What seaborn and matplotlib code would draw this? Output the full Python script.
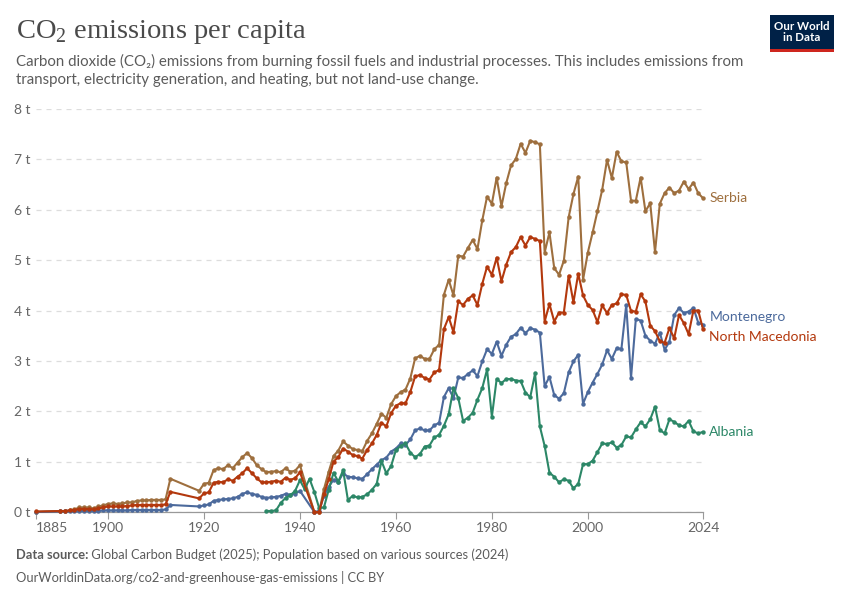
import pandas as pd
import matplotlib.pyplot as plt
import seaborn as sns
from matplotlib.patches import Rectangle

# years with data (the series skip 1886-89, 1914-18 and 1941-42)
years = [1885] + list(range(1890, 1914)) + list(range(1919, 1941)) + list(range(1943, 2025))
years_albania = list(range(1933, 2025))

# tonnes of CO2 per person
serbia = [
    0.0,
    0.02, 0.02, 0.03, 0.05, 0.09, 0.09, 0.09, 0.07, 0.11, 0.13, 0.16, 0.17, 0.16, 0.17, 0.19, 0.19,
    0.22, 0.23, 0.23, 0.24, 0.24, 0.24, 0.25, 0.66,
    0.42, 0.56, 0.58, 0.83, 0.87, 0.85, 0.93, 0.87, 0.98, 1.09, 1.17, 1.07, 0.93, 0.85, 0.79, 0.80,
    0.81, 0.79, 0.87, 0.80, 0.82, 0.93,
    0.0, 0.0, 0.45, 0.80, 1.11, 1.22, 1.40, 1.32, 1.25, 1.23, 1.21, 1.41, 1.56, 1.75, 1.95, 1.87,
    2.14, 2.30, 2.38, 2.43, 2.65, 3.05, 3.10, 3.04, 3.04, 3.23, 3.32,
    4.31, 4.61, 4.30, 5.09, 5.07, 5.24, 5.40, 5.22, 5.79, 6.26, 6.12, 6.64, 6.07, 6.53, 6.88, 7.01,
    7.31, 7.13, 7.37, 7.34, 7.30, 5.15, 5.55, 4.84,
    4.71, 4.99, 5.85, 6.31, 6.66, 4.61, 5.15, 5.55, 5.97, 6.40, 6.99, 6.63, 7.15, 6.96, 6.94, 6.18,
    6.18, 6.64, 5.97, 6.13, 5.16, 6.12, 6.33, 6.44, 6.33, 6.38, 6.56, 6.41, 6.54, 6.33, 6.23,
]
north_macedonia = [
    0.01,
    0.02, 0.02, 0.03, 0.04, 0.06, 0.06, 0.06, 0.05, 0.07, 0.09, 0.11, 0.11, 0.11, 0.11, 0.12, 0.13,
    0.14, 0.14, 0.14, 0.14, 0.14, 0.14, 0.15, 0.40,
    0.27, 0.37, 0.39, 0.58, 0.60, 0.59, 0.65, 0.62, 0.70, 0.77, 0.87, 0.77, 0.67, 0.59, 0.59, 0.60,
    0.62, 0.60, 0.68, 0.64, 0.67, 0.79,
    0.0, 0.0, 0.35, 0.65, 1.00, 1.09, 1.26, 1.20, 1.13, 1.11, 1.06, 1.23, 1.36, 1.53, 1.77, 1.70,
    1.96, 2.11, 2.16, 2.16, 2.38, 2.69, 2.72, 2.66, 2.63, 2.77, 2.82,
    3.63, 3.87, 3.57, 4.18, 4.11, 4.23, 4.30, 4.11, 4.53, 4.87, 4.71, 5.05, 4.58, 4.91, 5.16, 5.26,
    5.46, 5.29, 5.46, 5.42, 5.38, 3.78, 4.13, 3.78,
    3.96, 3.96, 4.69, 4.16, 4.73, 4.30, 4.11, 4.01, 3.77, 4.10, 3.95, 4.11, 4.14, 4.32, 4.31, 3.99,
    3.98, 4.32, 4.18, 3.70, 3.59, 3.39, 3.36, 3.65, 3.45, 3.91, 3.75, 3.53, 4.00, 4.00, 3.63,
]
montenegro = [
    0.0,
    0.01, 0.01, 0.01, 0.01, 0.02, 0.02, 0.02, 0.02, 0.02, 0.03, 0.03, 0.03, 0.03, 0.03, 0.03, 0.04,
    0.04, 0.04, 0.04, 0.04, 0.04, 0.04, 0.05, 0.14,
    0.11, 0.13, 0.15, 0.22, 0.24, 0.25, 0.26, 0.27, 0.30, 0.36, 0.39, 0.36, 0.34, 0.30, 0.28, 0.29,
    0.30, 0.32, 0.36, 0.34, 0.36, 0.42,
    0.0, 0.02, 0.32, 0.50, 0.64, 0.60, 0.77, 0.70, 0.69, 0.67, 0.66, 0.75, 0.85, 0.94, 1.03, 1.08,
    1.20, 1.26, 1.36, 1.33, 1.44, 1.62, 1.66, 1.62, 1.62, 1.72, 1.77,
    2.28, 2.46, 2.26, 2.67, 2.66, 2.74, 2.81, 2.70, 2.99, 3.23, 3.14, 3.38, 3.10, 3.32, 3.48, 3.53,
    3.66, 3.55, 3.65, 3.62, 3.56, 2.50, 2.68, 2.32,
    2.25, 2.36, 2.77, 2.99, 3.12, 2.15, 2.38, 2.57, 2.74, 2.93, 3.21, 3.04, 3.25, 3.24, 4.11, 2.66,
    3.83, 3.80, 3.50, 3.40, 3.34, 3.56, 3.22, 3.38, 3.91, 4.05, 3.95, 3.98, 4.05, 3.76, 3.72,
]
albania = [
    0.02, 0.02, 0.03, 0.18, 0.28, 0.33, 0.42, 0.63, 0.45, 0.66, 0.40, 0.08, 0.09, 0.44, 0.78, 0.60,
    0.83, 0.24, 0.32, 0.29, 0.30, 0.35, 0.44, 0.56, 1.01, 0.77, 0.91, 1.23, 1.31, 1.36, 1.18, 1.09,
    1.15, 1.30, 1.32, 1.48, 1.53,
    1.71, 1.94, 2.46, 2.26, 1.81, 1.87, 1.97, 2.23, 2.46, 2.83, 1.89, 2.64, 2.56, 2.64, 2.64, 2.61,
    2.60, 2.37, 2.28, 2.75, 1.70, 1.31, 0.78, 0.70,
    0.59, 0.65, 0.62, 0.47, 0.56, 0.95, 0.95, 1.02, 1.19, 1.36, 1.35, 1.38, 1.28, 1.33, 1.50, 1.48,
    1.64, 1.78, 1.70, 1.84, 2.09, 1.63, 1.56, 1.84, 1.79, 1.72, 1.70, 1.81, 1.60, 1.56, 1.59,
]

x_ticks = [1885, 1900, 1920, 1940, 1960, 1980, 2000, 2024]
y_ticks = list(range(0, 9))

colors = {
    "Serbia": "#9e6f3e",
    "North Macedonia": "#b3380d",
    "Montenegro": "#4c6a9c",
    "Albania": "#2c8767",
}
# where the end labels sit (nudged apart where lines end close together)
label_y = {"Serbia": 6.24, "Montenegro": 3.88, "North Macedonia": 3.47, "Albania": 1.58}

frames = [
    pd.DataFrame({"year": years, "value": serbia, "country": "Serbia"}),
    pd.DataFrame({"year": years, "value": north_macedonia, "country": "North Macedonia"}),
    pd.DataFrame({"year": years, "value": montenegro, "country": "Montenegro"}),
    pd.DataFrame({"year": years_albania, "value": albania, "country": "Albania"}),
]
df = pd.concat(frames, ignore_index=True)

sns.set_theme(style="white")
plt.rcParams['font.family'] = ['Lato', 'DejaVu Sans']

W, H = 850, 600
fig = plt.figure(figsize=(W / 100, H / 100), dpi=100)
ax = fig.add_axes([36 / W, 88 / H, (703 - 36) / W, (512 - 109) / H])

sns.lineplot(
    data=df, x="year", y="value", hue="country",
    hue_order=["Serbia", "Montenegro", "Albania", "North Macedonia"],
    palette=colors, marker="o", markersize=3.2, markeredgewidth=0,
    linewidth=1.5, legend=False, ax=ax, clip_on=False, zorder=3,
)

ax.set_xlim(1885, 2024)
ax.set_ylim(0, 8)
ax.set_xlabel("")
ax.set_ylabel("")

ax.set_yticks(y_ticks)
ax.set_yticklabels([f"{v} t" for v in y_ticks])
ax.set_xticks(x_ticks)
ax.set_xticklabels([str(v) for v in x_ticks])
ax.get_xticklabels()[0].set_horizontalalignment("left")

ax.tick_params(axis="y", length=0, pad=4, labelsize=10, labelcolor="#666666")
ax.tick_params(axis="x", length=5, width=0.8, color="#999999", pad=2,
               labelsize=10, labelcolor="#666666", bottom=True)

ax.yaxis.grid(True, color="#dddddd", linestyle=(0, (4, 4)), linewidth=0.9)
ax.xaxis.grid(False)
for side in ["top", "right", "left"]:
    ax.spines[side].set_visible(False)
ax.spines["bottom"].set_color("#999999")
ax.spines["bottom"].set_linewidth(0.9)

# end-of-line labels
for name, yv in label_y.items():
    ax.annotate(name, xy=(2024, yv), xytext=(4.5, 0), textcoords="offset points",
                va="center", ha="left", fontsize=10, color=colors[name],
                annotation_clip=False)

# header
fig.text(16 / W, 1 - 32 / H, r"CO$_\mathregular{2}$ emissions per capita",
         family=["Liberation Serif", "DejaVu Serif"], fontsize=20.5,
         color="#4a4a4a", va="center", ha="left")
fig.text(16 / W, 1 - 61 / H,
         "Carbon dioxide (CO₂) emissions from burning fossil fuels and industrial processes. "
         "This includes emissions from",
         fontsize=10.8, color="#5b5b5b", va="center", ha="left")
fig.text(16 / W, 1 - 80 / H,
         "transport, electricity generation, and heating, but not land-use change.",
         fontsize=10.8, color="#5b5b5b", va="center", ha="left")

# logo
fig.patches.append(Rectangle((770 / W, 1 - 52 / H), 64 / W, 37 / H,
                             transform=fig.transFigure, facecolor="#002147",
                             edgecolor="none", zorder=5))
fig.patches.append(Rectangle((770 / W, 1 - 52 / H), 64 / W, 3 / H,
                             transform=fig.transFigure, facecolor="#ce261e",
                             edgecolor="none", zorder=6))
fig.text(802 / W, 1 - 32 / H, "Our World\nin Data", color="white", fontsize=8.3,
         fontweight="bold", ha="center", va="center", linespacing=1.0, zorder=7)

# footer
src = fig.text(16 / W, 1 - 555 / H, "Data source:", fontsize=9.3, fontweight="bold",
               color="#5b5b5b", va="center", ha="left")
ax.annotate(" Global Carbon Budget (2025); Population based on various sources (2024)",
            xy=(1, 0), xycoords=src, va="bottom", ha="left", fontsize=9.3, color="#5b5b5b",
            annotation_clip=False)
fig.text(16 / W, 1 - 577 / H, "OurWorldinData.org/co2-and-greenhouse-gas-emissions | CC BY",
         fontsize=9.3, color="#5b5b5b", va="center", ha="left")

fig.savefig("out.png", dpi=100, facecolor="white")
